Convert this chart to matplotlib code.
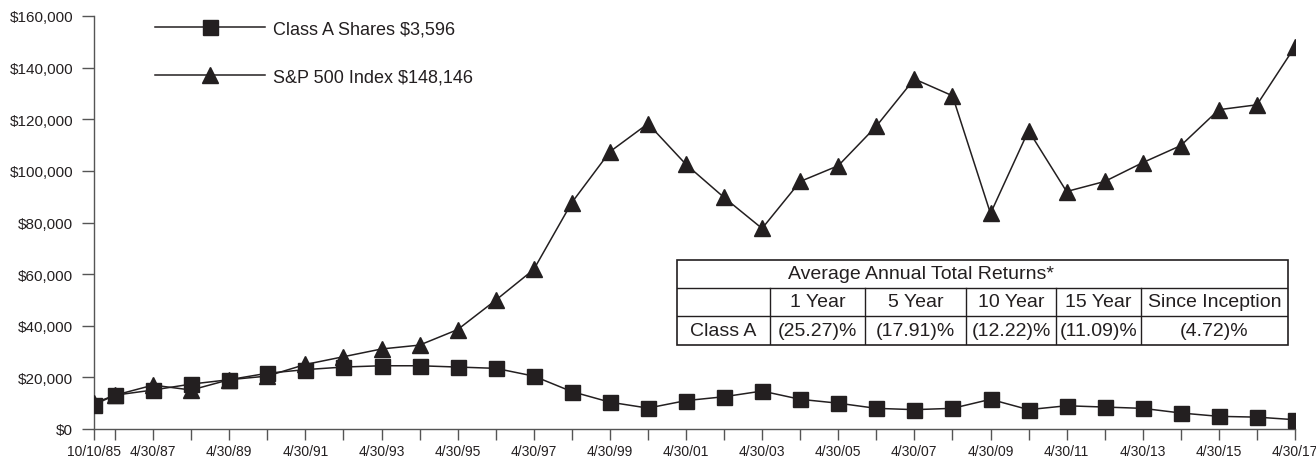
import pandas as pd
import matplotlib
matplotlib.use("Agg")
import matplotlib.pyplot as plt
from matplotlib.lines import Line2D
from matplotlib.ticker import FuncFormatter
from matplotlib.transforms import ScaledTranslation

plt.rcParams['font.family'] = ['Liberation Sans', 'DejaVu Sans']

# Growth of $10,000 investment
dates = ['10/10/85', '4/30/86', '4/30/87', '4/30/88', '4/30/89', '4/30/90',
         '4/30/91', '4/30/92', '4/30/93', '4/30/94', '4/30/95', '4/30/96',
         '4/30/97', '4/30/98', '4/30/99', '4/30/00', '4/30/01', '4/30/02',
         '4/30/03', '4/30/04', '4/30/05', '4/30/06', '4/30/07', '4/30/08',
         '4/30/09', '4/30/10', '4/30/11', '4/30/12', '4/30/13', '4/30/14',
         '4/30/15', '4/30/16', '4/30/17']
class_a = [9425, 13100, 15100, 17400, 19100, 21600, 23000, 24000, 24500, 24500,
           24000, 23500, 20500, 14500, 10400, 8100, 11000, 12500, 14700, 11500,
           10000, 8000, 7500, 8000, 11500, 7500, 9000, 8500, 8000, 6200,
           4900, 4600, 3596]
sp500 = [10000, 13100, 17000, 15100, 19100, 20500, 25000, 28000, 31000, 32500,
         38500, 49900, 61800, 87700, 107400, 118300, 102500, 89700, 77700, 95900,
         102000, 117300, 135600, 129100, 83500, 115600, 92000, 95900, 103200, 109800,
         123700, 125600, 148146]
class_a_label = 'Class A Shares $3,596'
sp500_label = 'S&P 500 Index $148,146'

# Average annual total returns table
table_title = 'Average Annual Total Returns*'
table_cols = ['', '1 Year', '5 Year', '10 Year', '15 Year', 'Since Inception']
table_row = ['Class A', '(25.27)%', '(17.91)%', '(12.22)%', '(11.09)%', '(4.72)%']

x = pd.to_datetime(dates, format='%m/%d/%y')
ink = '#231f20'
W, H = 1316, 464

fig = plt.figure(figsize=(W / 100, H / 100), dpi=100)
ax = fig.add_axes([94 / W, 1 - 430 / H, (1295 - 94) / W, (430 - 17) / H])

ax.plot(x, sp500, color=ink, lw=1.1, marker='^', ms=12.2, mec=ink, mfc=ink, zorder=3)
ax.plot(x, class_a, color=ink, lw=1.1, marker='s', ms=10.8, mec=ink, mfc=ink, zorder=4)

ax.set_xlim(x[0], x[-1])
ax.set_ylim(0, 160000)
ax.set_yticks(range(0, 160001, 20000))
ax.yaxis.set_major_formatter(FuncFormatter(lambda v, p: f'${v:,.0f}'))
ax.set_xticks(x)
ax.set_xticklabels([d if i % 2 == 0 else '' for i, d in enumerate(dates)], fontsize=10)
# keep the last date inside the picture
last = ax.get_xticklabels()[-1]
last.set_transform(last.get_transform() + ScaledTranslation(-3 / 100, 0, fig.dpi_scale_trans))

for s in ['top', 'right']:
    ax.spines[s].set_visible(False)
for s in ['left', 'bottom']:
    ax.spines[s].set_color('#555555')
    ax.spines[s].set_linewidth(1.0)
ax.tick_params(axis='y', length=8.6, width=1, color='#555555', labelsize=11, pad=6.3, labelcolor=ink)
ax.tick_params(axis='x', length=8, width=1, color='#555555', pad=2.5, labelcolor=ink)

handles = [Line2D([], [], color=ink, lw=1.1, marker='s', ms=10.8),
           Line2D([], [], color=ink, lw=1.1, marker='^', ms=12.2)]
ax.legend(handles, [class_a_label, sp500_label], loc='upper left',
          bbox_to_anchor=(155 / W, 1 - 21 / H), bbox_transform=fig.transFigure,
          frameon=False, fontsize=13, handlelength=6.1, handletextpad=0.45,
          labelspacing=1.73, borderpad=0, borderaxespad=0, labelcolor=ink)

# Table drawn in its own axes, pixel-like coordinates
col_edges = [677, 770, 865, 966, 1056, 1141, 1288]
row_edges = [261, 289, 317, 346]
tx = fig.add_axes([677 / W, 1 - 346 / H, (1288 - 677) / W, (346 - 261) / H])
tx.set_xlim(col_edges[0], col_edges[-1])
tx.set_ylim(row_edges[-1], row_edges[0])
tx.axis('off')
tx.add_patch(plt.Rectangle((col_edges[0], row_edges[0]), col_edges[-1] - col_edges[0],
                           row_edges[-1] - row_edges[0], fc='white', ec=ink, lw=1.2,
                           clip_on=False))
for r in row_edges[1:-1]:
    tx.plot([col_edges[0], col_edges[-1]], [r, r], color=ink, lw=1.0)
for c in col_edges[1:-1]:
    tx.plot([c, c], [row_edges[1], row_edges[-1]], color=ink, lw=1.0)
tx.text(921, (row_edges[0] + row_edges[1]) / 2, table_title,
        ha='center', va='center', fontsize=14, color=ink)
for i in range(len(table_cols)):
    cx = (col_edges[i] + col_edges[i + 1]) / 2
    tx.text(cx, (row_edges[1] + row_edges[2]) / 2, table_cols[i],
            ha='center', va='center', fontsize=14, color=ink)
    tx.text(cx, (row_edges[2] + row_edges[3]) / 2, table_row[i],
            ha='center', va='center', fontsize=14, color=ink)

fig.savefig('out.png', dpi=100)
